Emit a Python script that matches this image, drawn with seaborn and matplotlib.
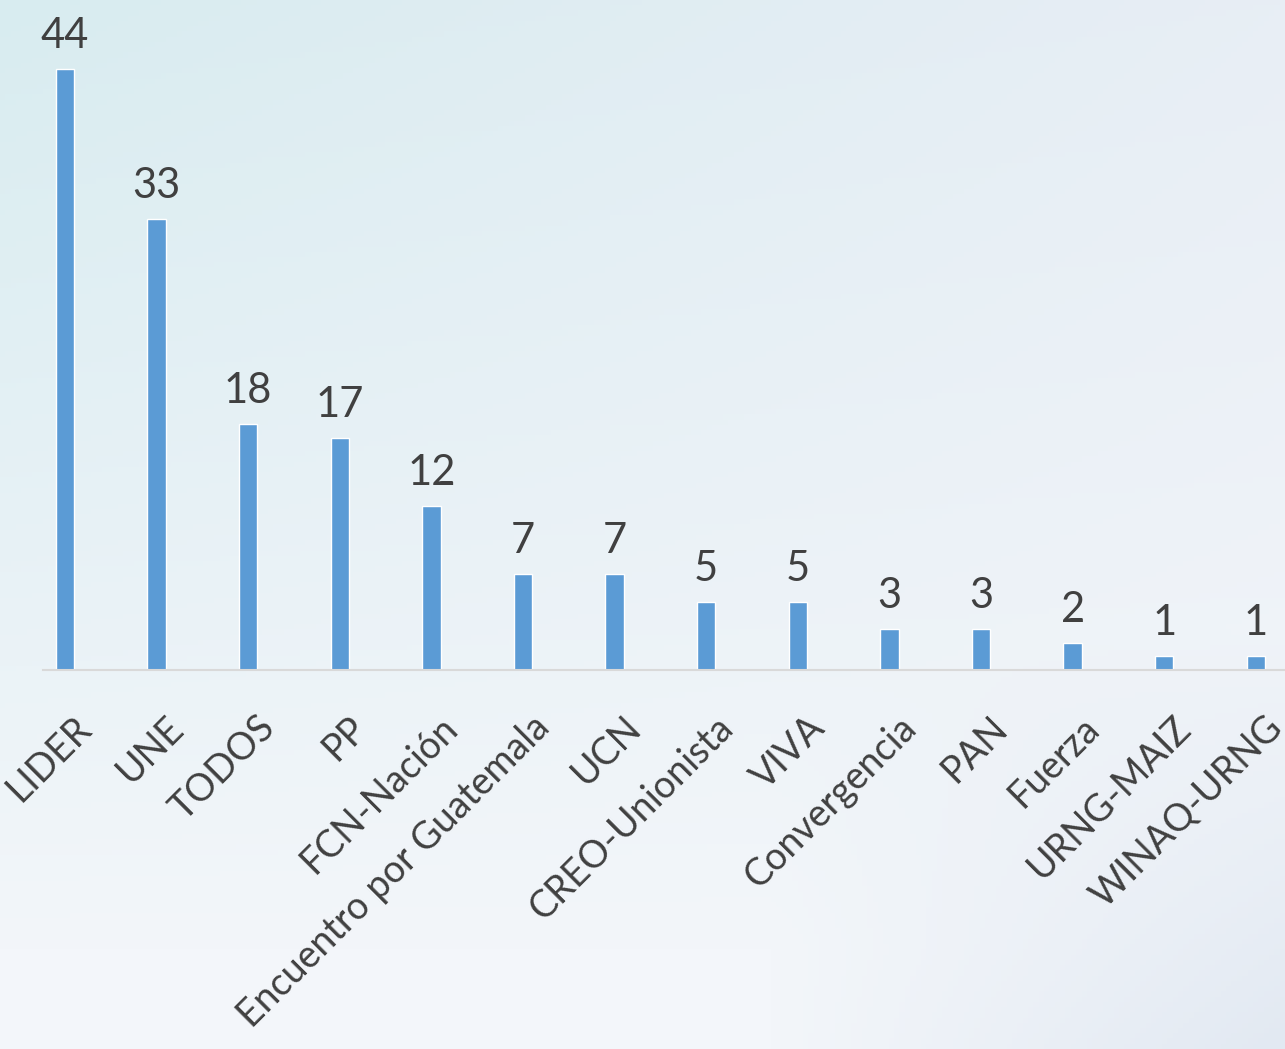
import numpy as np
import pandas as pd
import matplotlib
matplotlib.use("Agg")
import matplotlib.pyplot as plt
import matplotlib.transforms as mtransforms
import seaborn as sns

partidos = ["LIDER", "UNE", "TODOS", "PP", "FCN-Nación", "Encuentro por Guatemala",
            "UCN", "CREO-Unionista", "VIVA", "Convergencia", "PAN", "Fuerza",
            "URNG-MAIZ", "WINAQ-URNG"]
valores = [44, 33, 18, 17, 12, 7, 7, 5, 5, 3, 3, 2, 1, 1]

sns.set_theme(style="white")
plt.rcParams['font.family'] = ['Lato', 'DejaVu Sans']

W, H = 1285, 1049
fig = plt.figure(figsize=(W / 100, H / 100), dpi=100)

# background gradient
bg = fig.add_axes([0, 0, 1, 1], zorder=-10)
yy, xx = np.mgrid[0:1:200j, 0:1:240j]
c_tl = np.array([0xD8, 0xEC, 0xF0]) / 255
c_tr = np.array([0xE8, 0xEE, 0xF5]) / 255
c_b = np.array([0xF3, 0xF6, 0xFA]) / 255
c_br = np.array([0xE2, 0xE9, 0xF2]) / 255
t = np.clip(yy * 1.1, 0, 1)[..., None]
top = c_tl * (1 - xx[..., None]) + c_tr * xx[..., None]
img = top * (1 - t) + c_b * t
w_br = (np.clip((xx - 0.6) / 0.4, 0, 1) * np.clip((yy - 0.6) / 0.4, 0, 1))[..., None]
img = img * (1 - w_br) + c_br * w_br
bg.imshow(img, aspect='auto', extent=[0, 1, 0, 1], origin='upper')
bg.axis('off')

left = 43 / W
bottom = 1 - 670 / H
ax = fig.add_axes([left, bottom, 1 - left, 1 - bottom])
ax.patch.set_alpha(0)

df = pd.DataFrame({"partido": partidos, "valor": valores})
sns.barplot(data=df, x="partido", y="valor", color="#5B9BD5", saturation=1,
            width=0.2, ax=ax)

ax.set_xlim((43 - 65) / 91.6, (1285 - 65) / 91.6)
ax.set_ylim(0, 670 / 13.66)

ax.bar_label(ax.containers[0], padding=10, fontsize=30, color="#404040")

for s in ["top", "right", "left"]:
    ax.spines[s].set_visible(False)
ax.spines["bottom"].set_color("#D9D9D9")
ax.spines["bottom"].set_linewidth(1.5)
ax.set_yticks([])
ax.set_xlabel("")
ax.set_ylabel("")
ax.tick_params(axis='x', length=0, pad=0)
offset = mtransforms.ScaledTranslation(21 / 100, -52 / 100, fig.dpi_scale_trans)
for lab in ax.get_xticklabels():
    lab.set_rotation(45)
    lab.set_ha('right')
    lab.set_va('center')
    lab.set_rotation_mode('anchor')
    lab.set_fontsize(27)
    lab.set_color("#404040")
    lab.set_transform(lab.get_transform() + offset)

fig.savefig("out.png", dpi=100)
